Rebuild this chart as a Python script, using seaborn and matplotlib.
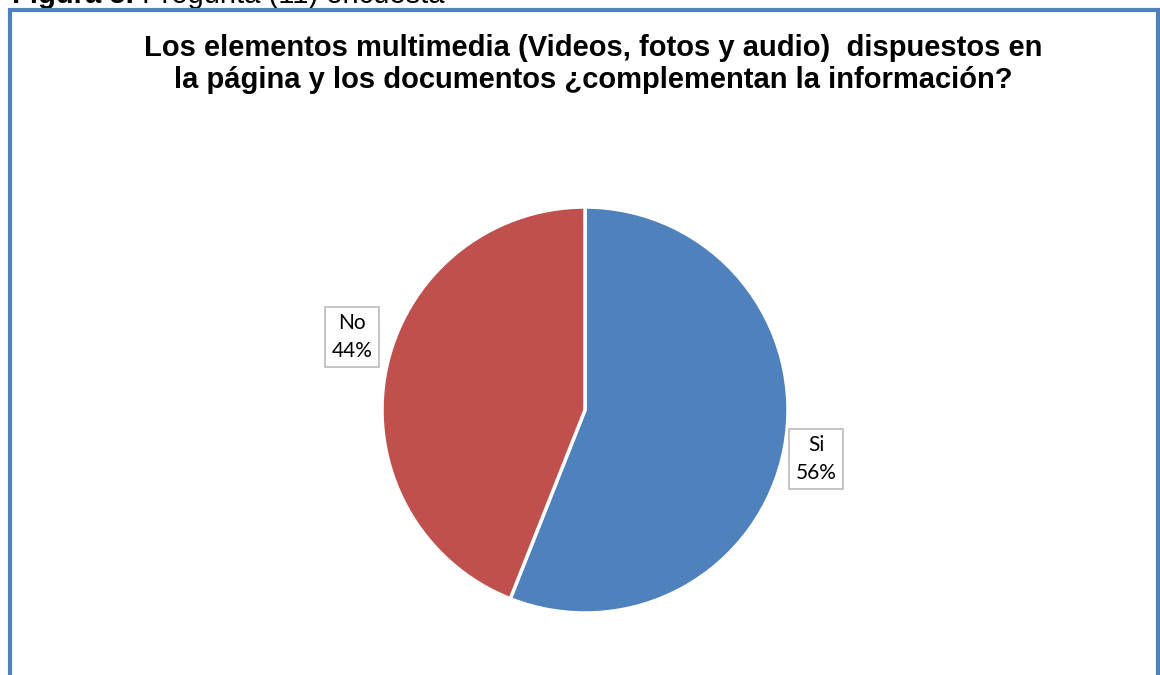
import matplotlib
matplotlib.use("Agg")
import matplotlib.pyplot as plt
import seaborn as sns
from matplotlib.patches import Rectangle

sns.set_theme(style="white")
plt.rcParams['font.family'] = ['Liberation Sans', 'DejaVu Sans']

labels = ["Si", "No"]
values = [56, 44]
colors = ["#4F81BD", "#C0504D"]
title = ("Los elementos multimedia (Videos, fotos y audio)  dispuestos en\n"
         "la página y los documentos ¿complementan la información?")
caption_bold = "Figura 5."
caption_rest = " Pregunta (11) encuesta"

W, H = 1160, 675
fig = plt.figure(figsize=(W / 100, H / 100), dpi=100)
fig.patch.set_facecolor("white")

# blue frame around chart area (bottom runs off the image)
fig.patches.append(Rectangle((10 / W, -0.1), (1148 / W), (665 / H) + 0.1,
                             transform=fig.transFigure, fill=False,
                             edgecolor="#4F81BD", linewidth=3, zorder=5))

# caption above the frame, mostly cut off by the top edge like the source
t1 = fig.text(12 / W, 1 - 3 / H, caption_bold, fontsize=21, fontweight="bold",
              ha="left", va="baseline", color="black")
fig.canvas.draw()
bb = t1.get_window_extent()
fig.text(bb.x1 / W, 1 - 3 / H, caption_rest, fontsize=21, ha="left",
         va="baseline", color="black")

fig.text(593 / W, 1 - 64 / H, title, fontsize=21, fontweight="bold",
         ha="center", va="center", linespacing=1.2, color="black")

cx, cy, r = 585, 410, 203
ax = fig.add_axes([(cx - r) / W, (H - cy - r) / H, 2 * r / W, 2 * r / H])
ax.pie(values, colors=colors, startangle=90, counterclock=False,
       wedgeprops=dict(edgecolor="white", linewidth=2.5))
ax.set_xlim(-1, 1)
ax.set_ylim(-1, 1)
ax.set_aspect("equal")
ax.axis("off")

label_pos = {"Si": (1.138, -0.241), "No": (-1.148, 0.36)}
for lab, v in zip(labels, values):
    x, y = label_pos[lab]
    ax.text(x, y, f"{lab}\n{v}%", ha="center", va="center", fontsize=15,
            family=["Lato", "DejaVu Sans"], linespacing=1.5, color="black",
            bbox=dict(boxstyle="square,pad=0.3", facecolor="white",
                      edgecolor="#BFBFBF", linewidth=1.3),
            clip_on=False)

fig.savefig("out.png", dpi=100, facecolor="white")
